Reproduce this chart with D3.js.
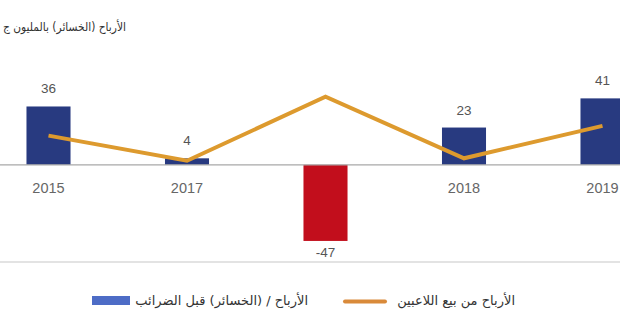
<!DOCTYPE html>
<html><head><meta charset="utf-8">
<script src="https://cdn.jsdelivr.net/npm/d3@7"></script>
<style>
html,body{margin:0;padding:0;background:#fff;overflow:hidden;}
svg{display:block;font-family:"Liberation Sans","DejaVu Sans",Arial,sans-serif;}
</style></head>
<body>
<svg id="chart" width="620" height="330"></svg>
<script>
const categories = ["2015", "2017", "2016", "2018", "2019"];
const profitBeforeTax = [36, 4, -47, 23, 41];
const playerSalesProfit = [18, 2.5, 42, 4, 24];
const yDomain = [-60, 50];
const titleText = "الأرباح (الخسائر) بالمليون ج";
const legendBars = "الأرباح / (الخسائر) قبل الضرائب";
const legendLine = "الأرباح من بيع اللاعبين";

const svg = d3.select("#chart");
const W = 620;
const x = d3.scaleBand().domain(categories).range([-20.75, 671.75]).paddingInner(0.682).paddingOuter(0.341);
const y = d3.scaleLinear().domain(yDomain).range([262, 83.8]);

// title (rtl: anchor "start" = right edge)
const title = svg.append("text").attr("x", 126).attr("y", 31).attr("text-anchor", "start")
  .attr("direction", "rtl").attr("font-family", "DejaVu Sans, sans-serif")
  .attr("font-size", 12).attr("fill", "#333").text(titleText);
const tw = title.node().getComputedTextLength();
if (tw > 123) title.attr("textLength", 123).attr("lengthAdjust", "spacingAndGlyphs");

// bottom line
svg.append("line").attr("x1", 0).attr("x2", W).attr("y1", y(yDomain[0])).attr("y2", y(yDomain[0]))
  .attr("stroke", "#c8c8c8").attr("stroke-width", 1.2);

// category labels (below zero)
svg.append("g").selectAll("text").data(categories).join("text")
  .attr("x", d => x(d) + x.bandwidth() / 2).attr("y", y(0) + 28.5)
  .attr("text-anchor", "middle").attr("font-size", 14.5).attr("fill", "#666").text(d => d);

// bars
svg.append("g").selectAll("rect").data(profitBeforeTax).join("rect")
  .attr("x", (d, i) => x(categories[i])).attr("width", x.bandwidth())
  .attr("y", d => y(Math.max(0, d))).attr("height", d => Math.abs(y(d) - y(0)))
  .attr("fill", d => d < 0 ? "#c20e1c" : "#283a80");

// zero line
svg.append("line").attr("x1", 0).attr("x2", W).attr("y1", y(0)).attr("y2", y(0))
  .attr("stroke", "#a8a8a8").attr("stroke-width", 1.2);

// value labels
svg.append("g").selectAll("text").data(profitBeforeTax).join("text")
  .attr("x", (d, i) => x(categories[i]) + x.bandwidth() / 2)
  .attr("y", d => d < 0 ? y(d) + 16 : y(d) - 13)
  .attr("text-anchor", "middle").attr("font-size", 13.5).attr("fill", "#555").text(d => d);

// line
const line = d3.line().x((d, i) => x(categories[i]) + x.bandwidth() / 2).y(d => y(d));
svg.append("path").datum(playerSalesProfit).attr("d", line)
  .attr("fill", "none").attr("stroke", "#dd9a2e").attr("stroke-width", 4).attr("stroke-linejoin", "miter");

// legend
const lg = svg.append("g").attr("font-family", "DejaVu Sans, sans-serif").attr("font-size", 13).attr("fill", "#333");
lg.append("rect").attr("x", 92).attr("y", 296).attr("width", 38).attr("height", 9).attr("fill", "#4d6cc6");
lg.append("text").attr("x", 308).attr("y", 305).attr("text-anchor", "start").attr("direction", "rtl").text(legendBars);
lg.append("line").attr("x1", 345).attr("x2", 385).attr("y1", 301.5).attr("y2", 301.5)
  .attr("stroke", "#d98a3a").attr("stroke-width", 4).attr("stroke-linecap", "round");
lg.append("text").attr("x", 515).attr("y", 305).attr("text-anchor", "start").attr("direction", "rtl").text(legendLine);
</script>
</body></html>
